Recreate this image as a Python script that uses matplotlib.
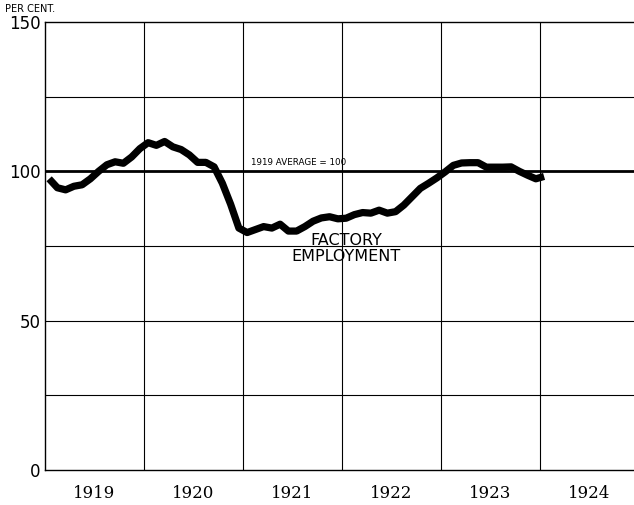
import matplotlib
matplotlib.use("Agg")
import matplotlib.pyplot as plt
import numpy as np

# Monthly factory employment index, Jan 1919 .. Jan 1924 (1919 average = 100)
employment = [97.5, 94.5, 93.8, 95.0, 95.5, 97.5, 100.0, 102.2, 103.2, 102.7, 104.8, 107.6,
              109.6, 108.7, 110.0, 108.2, 107.3, 105.5, 103.0, 103.0, 101.5, 96.0, 89.0, 81.0,
              79.5, 80.5, 81.5, 81.0, 82.3, 80.0, 80.0, 81.5, 83.3, 84.4, 84.8, 84.1,
              84.3, 85.5, 86.2, 86.0, 87.0, 86.0, 86.5, 88.7, 91.5, 94.3, 96.0, 97.8,
              99.8, 102.0, 102.8, 102.9, 102.9, 101.4, 101.4, 101.4, 101.5, 100.0, 98.7, 97.5,
              98.3]
years = ["1919", "1920", "1921", "1922", "1923", "1924"]
ytick_values = [0, 50, 100, 150]
ytick_labels = ["0", "50", "100", "150"]
grid_values = [25, 50, 75, 125]
average_value = 100

months = (np.arange(len(employment)) + 0.5) / 12.0

fig = plt.figure(figsize=(6.34, 5.05), dpi=100)
ax = fig.add_axes([45/634, 35/505, (634-45)/634, 448/505])

ax.set_xlim(0, 5.95)
ax.set_ylim(0, 150)

for g in grid_values:
    ax.axhline(g, color="black", lw=0.8, zorder=1)
for i in range(1, 6):
    ax.axvline(i, color="black", lw=0.8, zorder=1)
ax.axhline(average_value, color="black", lw=2.0, zorder=2)

ax.plot(months, employment, color="black", lw=5.2, solid_capstyle="butt",
        solid_joinstyle="round", zorder=3)

ax.spines["right"].set_visible(False)
for s in ["left", "bottom", "top"]:
    ax.spines[s].set_linewidth(1.0)
    ax.spines[s].set_color("black")

ax.set_yticks(ytick_values)
ax.set_yticklabels(ytick_labels, fontsize=12, family="DejaVu Sans")
ax.set_xticks([i + 0.5 for i in range(len(years))])
ax.set_xticklabels(years, fontsize=12, family="DejaVu Serif")
ax.tick_params(axis="both", length=0)
ax.tick_params(axis="x", pad=11)
ax.tick_params(axis="y", pad=3)

ax.text(2.08, 101.3, "1919 AVERAGE = 100", fontsize=6.3, ha="left", va="bottom")
ax.text(3.04, 76.8, "FACTORY", fontsize=11.5, ha="center", va="center")
ax.text(3.04, 71.4, "EMPLOYMENT", fontsize=11.5, ha="center", va="center")

fig.text(5/634, 1 - 12.5/505, "PER CENT.", fontsize=7, ha="left", va="baseline")

fig.savefig("out.png", dpi=100, facecolor="white")
